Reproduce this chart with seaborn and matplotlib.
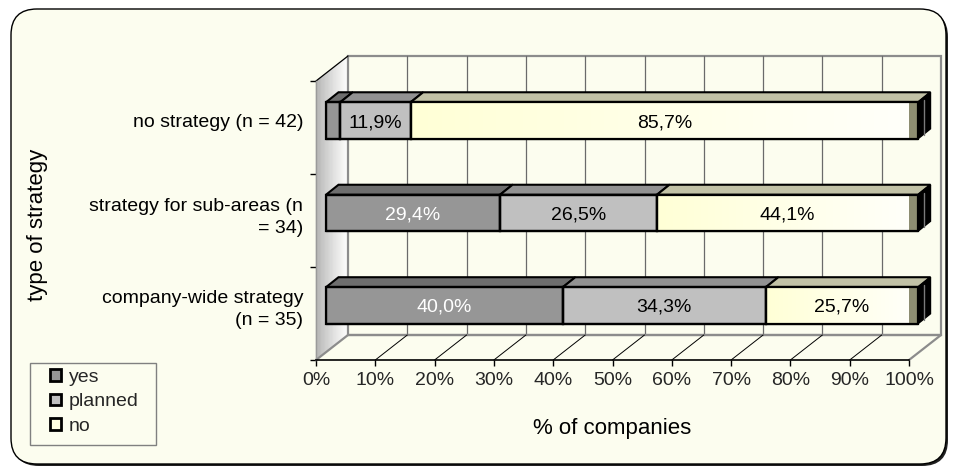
import numpy as np
import pandas as pd
import matplotlib
matplotlib.use("Agg")
import matplotlib.pyplot as plt
import seaborn as sns
from matplotlib.patches import Polygon, Rectangle, FancyBboxPatch
from matplotlib.collections import PolyCollection
from matplotlib.transforms import IdentityTransform
from matplotlib.lines import Line2D
from matplotlib.colors import to_rgb

# ---- data -------------------------------------------------------------
categories = [
    "no strategy (n = 42)",
    "strategy for sub-areas (n\n= 34)",
    "company-wide strategy\n(n = 35)",
]
yes = [2.4, 29.4, 40.0]
planned = [11.9, 26.5, 34.3]
no = [85.7, 44.1, 25.7]
series_names = ["yes", "planned", "no"]
x_ticks = list(range(0, 101, 10))
x_tick_labels = [f"{t}%" for t in x_ticks]
x_title = "% of companies"
y_title = "type of strategy"

# ---- style ------------------------------------------------------------
sns.set_theme(style="white")
plt.rcParams["font.family"] = ["Liberation Sans", "DejaVu Sans"]

BG = "#FCFDEF"
FRONT = {"yes": "#969696", "planned": "#C0C0C0", "no": "#FFFFE2"}
TOP = {"yes": "#6E6E6E", "planned": "#929292", "no": "#C2C2A6"}
FS = 14
TITLE_FS = 16

W, H = 956, 468
fig = plt.figure(figsize=(W / 100, H / 100), dpi=100)
fig.patch.set_facecolor("white")
ident = IdentityTransform()

# rounded chart-area frame with a small drop shadow
shadow = FancyBboxPatch((13, H - 466), 935, 455,
                        boxstyle="round,pad=0,rounding_size=26",
                        transform=ident, fc="#202020", ec="none", zorder=-3)
frame = FancyBboxPatch((11, H - 464), 935, 455,
                       boxstyle="round,pad=0,rounding_size=26",
                       transform=ident, fc=BG, ec="black", lw=1.0, zorder=-2)
fig.add_artist(shadow)
fig.add_artist(frame)

# front plane of the 3-D box (axis ticks live here) and the bar plane
ax_front = fig.add_axes([316 / W, (H - 360) / H, 593 / W, 279 / H], zorder=0)
ax = fig.add_axes([326 / W, (H - 352) / H, 592 / W, 279 / H], zorder=1)

DEPTH = np.array([32.0, 25.0])     # front -> back wall shift (px)
BAR_DEPTH = np.array([12.5, 10.0])  # bar front -> bar back shift (px)

ax_front.set_xlim(0, 100)
ax_front.set_ylim(0, 3)
ax_front.patch.set_visible(False)
for s in ["top", "right"]:
    ax_front.spines[s].set_visible(False)
ax_front.spines["left"].set_color("#9A9A9A")
ax_front.spines["left"].set_linewidth(1.0)
ax_front.spines["bottom"].set_color("black")
ax_front.spines["bottom"].set_linewidth(1.2)
ax_front.set_xticks(x_ticks, x_tick_labels)
ax_front.set_yticks([0, 1, 2, 3], [""] * 4)
ax_front.tick_params(axis="x", bottom=True, direction="out", length=4.5,
                     width=1, color="black", pad=4, labelsize=FS)
ax_front.tick_params(axis="y", left=True, direction="out", length=4.5,
                     width=1, color="black")

fr = ax_front.transAxes


def front_pt(xa, ya):
    return np.asarray(fr.transform((xa, ya)))


def back_pt(xa, ya):
    return front_pt(xa, ya) + DEPTH


def add(artist, target):
    artist.set_clip_on(False)
    if isinstance(artist, Line2D):
        target.add_line(artist)
    else:
        target.add_patch(artist)


# back wall
add(Polygon([back_pt(0, 0), back_pt(1, 0), back_pt(1, 1), back_pt(0, 1)],
            closed=True, transform=ident, fc=BG, ec="#8C8C8C", lw=1.6,
            zorder=0.5), ax_front)
for v in x_ticks[1:-1]:
    p0, p1 = back_pt(v / 100, 0), back_pt(v / 100, 1)
    add(Line2D([p0[0], p1[0]], [p0[1], p1[1]], transform=ident,
               color="#6A6A6A", lw=0.9, zorder=0.6), ax_front)

# left side wall with a grey-to-white gradient
n_strips = 40
c_left, c_right = np.array(to_rgb("#ABABAB")), np.array(to_rgb("#FFFFFF"))
quads, cols = [], []
for i in range(n_strips):
    t0, t1 = i / n_strips, (i + 1) / n_strips
    quads.append([front_pt(0, 0) + DEPTH * t0, front_pt(0, 1) + DEPTH * t0,
                  front_pt(0, 1) + DEPTH * t1, front_pt(0, 0) + DEPTH * t1])
    t = (t0 + t1) / 2
    cols.append(c_left + (c_right - c_left) * t ** 0.8)
side = PolyCollection(quads, facecolors=cols, edgecolors=cols, linewidths=0.3,
                      transform=ident, zorder=0.4)
side.set_clip_on(False)
ax_front.add_collection(side, autolim=False)
p0, p1 = front_pt(0, 1), back_pt(0, 1)
add(Line2D([p0[0], p1[0]], [p0[1], p1[1]], transform=ident, color="black",
           lw=0.9, zorder=0.7), ax_front)

# floor
add(Polygon([front_pt(0, 0), front_pt(1, 0), back_pt(1, 0), back_pt(0, 0)],
            closed=True, transform=ident, fc=BG, ec="none", zorder=0.45), ax_front)
for a, b in [(front_pt(0, 0), back_pt(0, 0)), (back_pt(0, 0), back_pt(1, 0)),
             (front_pt(1, 0), back_pt(1, 0))]:
    add(Line2D([a[0], b[0]], [a[1], b[1]], transform=ident, color="#8C8C8C",
               lw=1.6, zorder=0.7), ax_front)
for v in x_ticks[1:-1]:
    a, b = front_pt(v / 100, 0), back_pt(v / 100, 0)
    add(Line2D([a[0], b[0]], [a[1], b[1]], transform=ident, color="black",
               lw=0.7, zorder=0.7), ax_front)

ax_front.set_xlabel(x_title, fontsize=TITLE_FS, color="black")
ax_front.xaxis.set_label_coords(0.5, -0.244)
ax_front.xaxis.label.set_va("center")
ax_front.set_ylabel(y_title, fontsize=TITLE_FS, color="black")
ax_front.yaxis.set_label_coords(-0.469, 0.484)
ax_front.yaxis.label.set_va("center")

# ---- stacked bars -----------------------------------------------------
df = pd.DataFrame({"category": categories, "yes": yes,
                   "planned": planned, "no": no})
left = np.zeros(len(categories))
segments = []
for name in series_names:
    before = len(ax.patches)
    sns.barplot(data=df, x=name, y="category", order=categories, orient="h",
                color=FRONT[name], saturation=1, width=0.395, left=left,
                edgecolor="black", linewidth=1.6, errorbar=None, ax=ax,
                zorder=3)
    segments.append((name, list(ax.patches[before:])))
    left = left + df[name].to_numpy()

ax.set_xlim(0, 100)
ax.set_ylim(2.503, -0.514)
ax.patch.set_visible(False)
for s in ax.spines.values():
    s.set_visible(False)
ax.set_xlabel("")
ax.set_ylabel("")
ax.set_xticks([])
ax.tick_params(axis="y", left=False, length=0, pad=16.5, labelsize=FS,
               labelcolor="black")
for lab in ax.get_yticklabels():
    lab.set_multialignment("right")
    lab.set_linespacing(1.35)

td = ax.transData
grad = np.linspace(0, 1, 64)
cream_a, cream_b = np.array(to_rgb("#FFFFD6")), np.array(to_rgb("#FFFFFB"))
grad_img = (cream_a[None, :] + (cream_b - cream_a)[None, :] * grad[:, None])[None, :, :]

for name, patches in segments:
    for p in patches:
        x0, w = p.get_x(), p.get_width()
        y0, h = p.get_y(), p.get_height()
        x1 = x0 + w
        a0, a1 = td.transform((x0, y0)), td.transform((x0, y0 + h))
        y_top_data = y0 if a0[1] > a1[1] else y0 + h
        y_bot_data = y0 + h if y_top_data == y0 else y0
        tl, tr = td.transform((x0, y_top_data)), td.transform((x1, y_top_data))
        br = td.transform((x1, y_bot_data))
        add(Polygon([tl, tr, tr + BAR_DEPTH, tl + BAR_DEPTH], closed=True,
                    transform=ident, fc=TOP[name], ec="black", lw=1.5,
                    zorder=2), ax)
        if name == "no":
            im = ax.imshow(grad_img, extent=(x0, x1, y0 + h, y0), aspect="auto",
                           interpolation="bilinear", zorder=3.1)
            im.set_clip_path(p)
            # shaded end strip and right-hand end face
            add(Rectangle((x1 - 1.6, y0), 1.6, h, fc="#8E8E72", ec="none",
                          zorder=3.2), ax)
            add(Polygon([br, tr, tr + BAR_DEPTH, br + BAR_DEPTH], closed=True,
                        transform=ident, fc="black", ec="black", lw=1.0,
                        zorder=2.5), ax)
            mid = (br + BAR_DEPTH * 0.45)
            add(Line2D([mid[0], mid[0]], [br[1] + 4, tr[1] + 2], transform=ident,
                       color="#7A7A7A", lw=1.0, zorder=2.6), ax)
        add(Rectangle((x0, y0), w, h, fc="none", ec="black", lw=1.6,
                      zorder=3.6), ax)

# value labels on the wider segments
starts = np.zeros(len(categories))
for name in series_names:
    vals = df[name].to_numpy()
    for i, v in enumerate(vals):
        if v >= 5:
            ax.text(starts[i] + v / 2, i, f"{v:.1f}".replace(".", ",") + "%",
                    ha="center", va="center_baseline", fontsize=FS,
                    color="white" if name == "yes" else "black", zorder=4)
    starts = starts + vals

ax.set_xlim(0, 100)
ax.set_ylim(2.503, -0.514)

# ---- legend -----------------------------------------------------------
add(Rectangle((30, H - 445), 126, 82, transform=ident, fc=BG, ec="#808080",
              lw=1.0, zorder=5), ax_front)
handles = [Rectangle((0, 0), 1, 1, fc=FRONT[n], ec="black", lw=2.0)
           for n in series_names]
leg = ax_front.legend(handles, series_names, loc="upper left",
                      bbox_to_anchor=(50 / W, 1 - 369 / H),
                      bbox_transform=fig.transFigure, frameon=False,
                      fontsize=FS, handlelength=0.55, handleheight=0.55,
                      handletextpad=0.4, labelspacing=0.38, borderpad=0,
                      borderaxespad=0)
leg.set_zorder(6)

fig.savefig("out.png", dpi=100, facecolor=fig.get_facecolor())
